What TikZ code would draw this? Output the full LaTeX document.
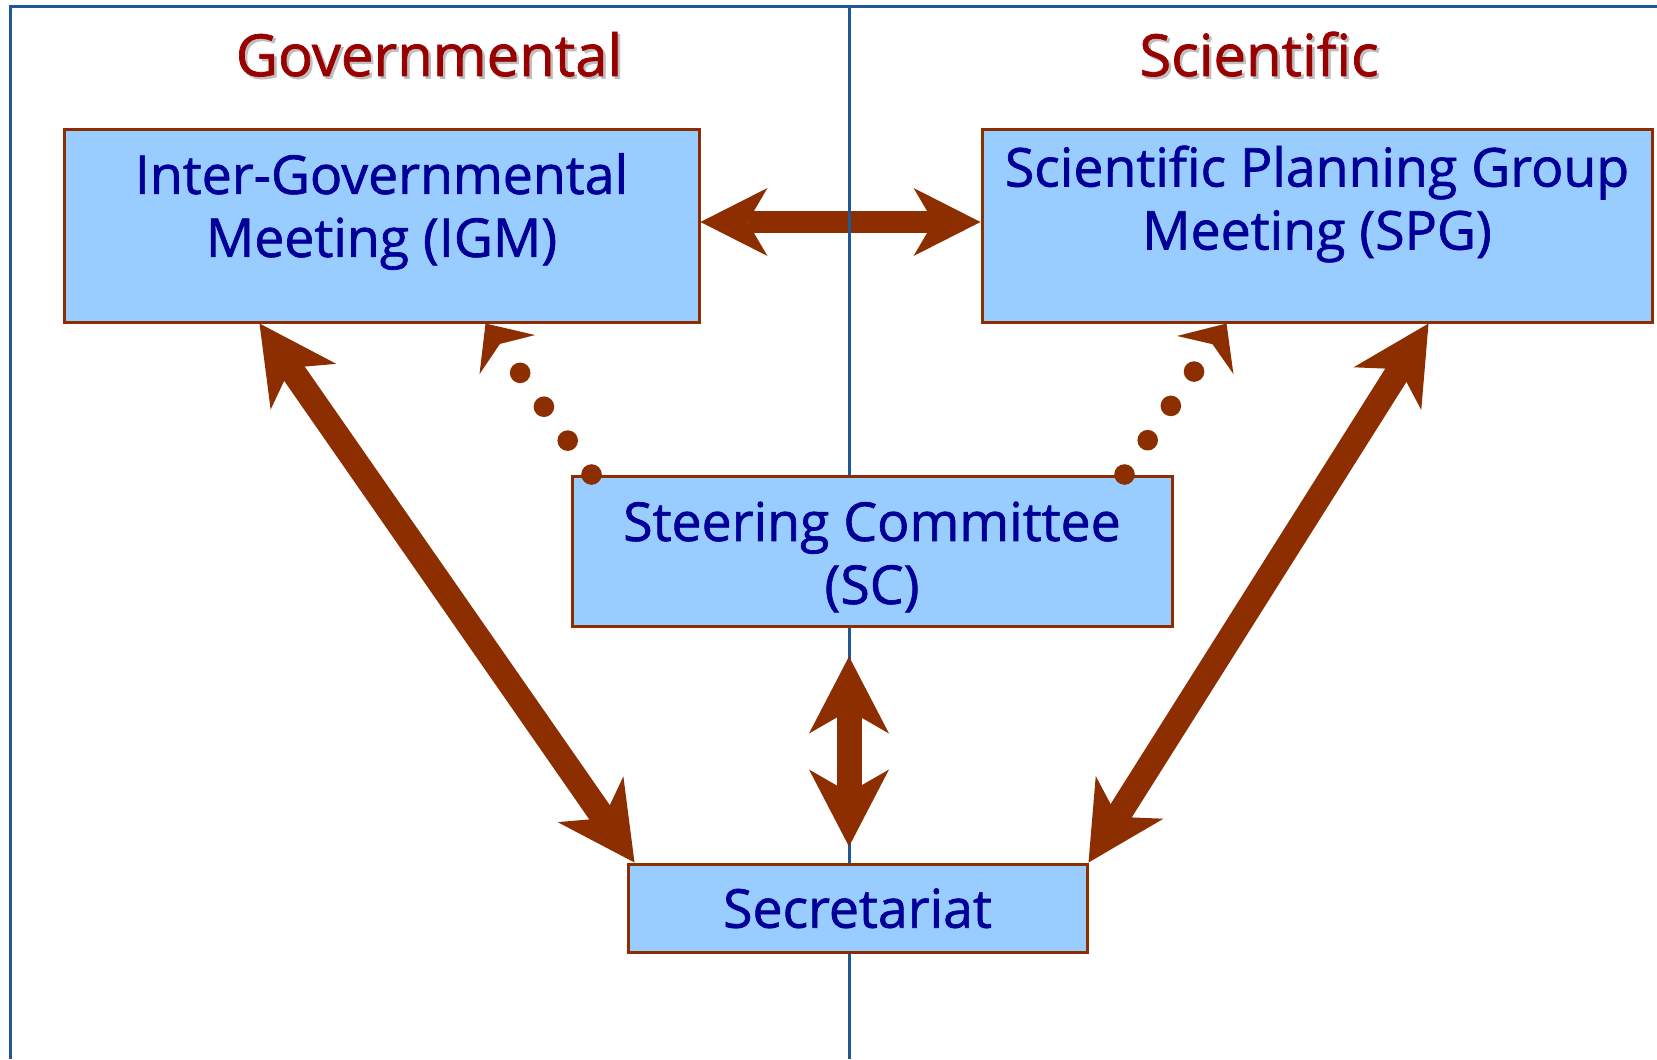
\documentclass[tikz,border=0pt]{standalone}
\usepackage{fontspec}
\setmainfont{Open Sans}[FakeBold=1.2]
\usetikzlibrary{arrows.meta}
\definecolor{frameblue}{RGB}{31,88,153}
\definecolor{boxfill}{RGB}{153,204,255}
\definecolor{rust}{RGB}{140,46,0}
\definecolor{navy}{RGB}{0,0,153}
\definecolor{titlered}{RGB}{153,0,0}
\definecolor{shadowgrey}{RGB}{190,190,190}
\pgfdeclarelayer{back}
\pgfsetlayers{back,main}
\begin{document}
\begin{tikzpicture}[x=0.5pt,y=-0.5pt,
    box/.style={draw=rust,fill=boxfill,line width=1.5pt,inner sep=0pt},
    boxtext/.style={text=navy,align=center,inner sep=0pt,font=\fontsize{26.8}{31.5}\selectfont},
    title/.style={text=titlered,inner sep=0pt,anchor=base,font=\fontsize{29}{34}\selectfont},
    titleshadow/.style={title,text=shadowgrey},
    divider/.style={draw=frameblue,line width=1.5pt},
    wideflow/.style={draw=rust,line width=10.5pt,>={Stealth[length=33.5pt,width=34pt,inset=10pt,line width=0pt]},<->},
    flow/.style={draw=rust,line width=12.5pt,>={Stealth[length=38.5pt,width=40pt,inset=11.5pt,line width=0pt]},<->},
    dotflow/.style={draw=rust,line width=10.3pt,line cap=round,dash pattern=on 0pt off 20.7pt,
      -{Stealth[length=19pt,width=34pt,inset=6.5pt,line width=0pt]}}]
    \useasboundingbox (0,0) rectangle (1657,1059);
    \coordinate (tl) at (10,7);
    \coordinate (divtop) at (849,7);
    \node[titleshadow] (govtshadow) at (431.5,78.5) {Governmental};
    \node[title] (govt) at (429,76) {Governmental};
    \node[titleshadow] (scishadow) at (1261.5,78.5) {Scientific};
    \node[title] (sci) at (1259,76) {Scientific};
    \node[box,minimum width=317.5pt,minimum height=96pt] (igm) at (381.5,226) {};
    \node[box,minimum width=335pt,minimum height=96pt] (spg) at (1317,226) {};
    \node[box,minimum width=300pt,minimum height=75pt] (sc) at (872,551) {};
    \node[box,minimum width=229.5pt,minimum height=44pt] (sec) at (857.5,908) {};
    \node[boxtext] (igmtext) at (381.5,211.5) {Inter-Governmental\\Meeting (IGM)};
    \node[boxtext] (spgtext) at (1317,204) {Scientific Planning Group\\Meeting (SPG)};
    \node[boxtext] (sctext) at (872,557) {Steering Committee\\(SC)};
    \node[boxtext,anchor=base] (sectext) at (857.5,927.7) {Secretariat};
    \begin{pgfonlayer}{back}
    \draw[wideflow] ([yshift=2pt]igm.east) -- ([yshift=2pt]spg.west);
    \draw[divider] (1657,7) -- (tl) -- (10,1059);
    \draw[divider] (divtop) -- (849,1059);
    \end{pgfonlayer}
    \draw[flow,shorten <=14.5pt,shorten >=8pt] (sc.south -| divtop) -- (sec.north -| divtop);
    \draw[flow] ([xshift=98.5pt]igm.south west) -- ([xshift=4pt]sec.north west);
    \draw[flow] ([xshift=224pt]spg.south west) -- (sec.north east);
    \draw[dotflow] ([xshift=10.5pt]sc.north west) -- ([xshift=211.5pt]igm.south west);
    \draw[dotflow] ([xshift=-24.5pt]sc.north east) -- ([xshift=123pt]spg.south west);
\end{tikzpicture}
\end{document}
